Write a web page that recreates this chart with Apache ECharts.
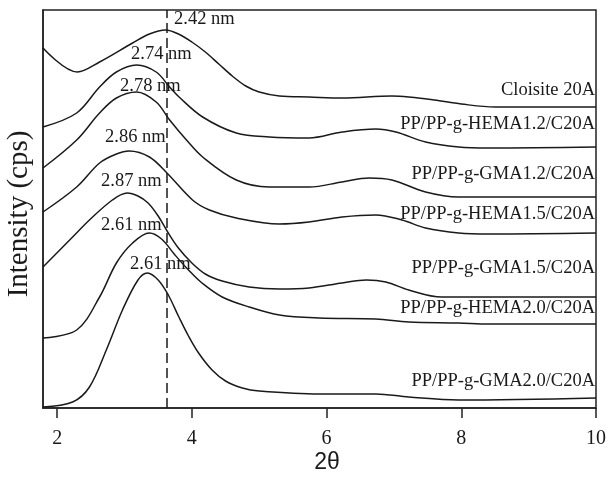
<!DOCTYPE html>
<html>
<head>
<meta charset="utf-8">
<script src="https://cdn.jsdelivr.net/npm/echarts@6/dist/echarts.min.js"></script>
<style>
  html, body { margin: 0; padding: 0; background: #fff; }
  #chart { width: 609px; height: 478px; }
</style>
</head>
<body>
<div id="chart"></div>
<script>
// 2θ (deg) vs intensity (arbitrary cps, offset for stacking)
const cloisite = [[1.79,360],[2.30,336],[2.63,346],[3.12,365],[3.37,374],[3.61,378],[3.80,374],[4.00,366],[4.20,356],[4.40,344],[4.60,332],[4.80,322],[5.00,316],[5.30,312],[5.74,311],[6.23,310],[6.97,312],[7.22,311],[7.60,308],[8.00,304],[8.50,301],[10,301]];
const hema12 = [[1.79,281],[2.29,295],[2.63,321],[2.88,336],[3.18,343],[3.47,336],[3.67,321],[3.81,311],[4.16,291],[4.66,275],[5.15,271],[5.74,270],[6.23,276],[6.73,279],[7.03,276],[7.47,266],[7.96,261],[8.41,260],[10,261]];
const gma12 = [[1.79,240],[2.29,268],[2.63,295],[2.88,310],[3.18,316],[3.47,306],[3.67,288],[3.92,268],[4.16,251],[4.66,228],[5.15,221],[5.74,221],[6.23,226],[6.63,230],[6.97,228],[7.47,216],[7.96,211],[8.41,211],[10,211]];
const hema15 = [[1.79,196],[2.29,221],[2.63,245],[2.88,254],[3.07,257],[3.37,251],[3.63,235],[4.01,208],[4.26,198],[4.66,190],[5.30,184],[5.74,186],[6.23,191],[6.73,193],[7.12,188],[7.47,180],[7.96,175],[8.41,174],[10,175]];
const gma15 = [[1.79,141],[2.23,171],[2.48,188],[2.82,208],[3.04,215],[3.20,212],[3.35,205],[3.50,192],[3.65,175],[3.80,160],[4.00,145],[4.20,134],[4.45,127],[4.85,121],[5.30,119],[5.74,120],[6.23,125],[6.59,128],[6.88,126],[7.22,118],[7.71,111],[8.41,111],[10,111]];
const hema20 = [[1.79,70],[2.29,78],[2.63,111],[2.88,145],[3.12,165],[3.37,175],[3.55,169],[3.75,153],[3.95,138],[4.15,125],[4.45,111],[4.85,101],[5.30,93],[5.89,90],[6.73,89],[7.22,86],[7.96,85],[8.41,84],[10,84]];
const gma20 = [[1.79,1],[2.23,6],[2.48,21],[2.73,58],[2.97,98],[3.20,128],[3.34,135],[3.50,128],[3.65,113],[3.80,92],[3.95,72],[4.10,55],[4.30,38],[4.50,27],[4.75,20],[5.00,17],[5.89,14],[6.73,14],[7.22,11],[7.96,8],[10,10]];

const seriesNames = ["Cloisite 20A", "PP/PP-g-HEMA1.2/C20A", "PP/PP-g-GMA1.2/C20A", "PP/PP-g-HEMA1.5/C20A",
  "PP/PP-g-GMA1.5/C20A", "PP/PP-g-HEMA2.0/C20A", "PP/PP-g-GMA2.0/C20A"];
const dSpacing = ["2.42 nm", "2.74 nm", "2.78 nm", "2.86 nm", "2.87 nm", "2.61 nm", "2.61 nm"];
const xTicks = [2, 4, 6, 8, 10];
const refLine = 3.62;

const allData = [cloisite, hema12, gma12, hema15, gma15, hema20, gma20];

// where the texts go (pixels)
const nameY = [90, 124.5, 174.5, 214, 268.5, 308.5, 381];
const peakPos = [[174, 19.5], [131, 54.5], [120, 86], [105, 137.5], [101, 181.5], [101, 225.5], [130, 264]];

const serif = "Liberation Serif";
const ink = "#1a1a1a";

const chart = echarts.init(document.getElementById("chart"));

const series = allData.map((d, i) => ({
  name: seriesNames[i],
  type: "line",
  data: d,
  smooth: 0.35,
  showSymbol: false,
  lineStyle: { color: ink, width: 1.5 },
  z: 3,
}));
series[0].markLine = {
  silent: true,
  symbol: "none",
  label: { show: false },
  lineStyle: { color: ink, width: 1.5, type: [10, 5] },
  data: [{ xAxis: refLine }],
};

const graphic = [];
seriesNames.forEach((n, i) => {
  graphic.push({
    type: "text", x: 595, y: nameY[i],
    style: { text: n, font: `18.5px "${serif}"`, fill: ink, align: "right", verticalAlign: "middle" },
  });
});
dSpacing.forEach((t, i) => {
  graphic.push({
    type: "text", x: peakPos[i][0], y: peakPos[i][1],
    style: { text: t, font: `18.5px "${serif}"`, fill: ink, align: "left", verticalAlign: "middle" },
  });
});
graphic.push({
  type: "text", x: 19, y: 214, rotation: Math.PI / 2,
  style: { text: "Intensity (cps)", font: `29px "${serif}"`, fill: ink, align: "center", verticalAlign: "middle" },
});
graphic.push({
  type: "text", x: 327, y: 463,
  style: { text: "2θ", font: '23px "Liberation Sans"', fill: ink, align: "center", verticalAlign: "middle" },
});

let option;
option = {
  animation: false,
  backgroundColor: "#fff",
  grid: { left: 43, right: 12, top: 10, bottom: 70, show: true, borderColor: "#222", borderWidth: 1.5 },
  xAxis: {
    type: "value",
    min: 1.79,
    max: 10,
    axisLine: { lineStyle: { color: "#222", width: 1.5 } },
    axisTick: { show: true, inside: false, length: 10, customValues: xTicks, lineStyle: { color: "#222", width: 1.5 } },
    axisLabel: { customValues: xTicks, margin: 21, fontFamily: serif, fontSize: 20, color: ink },
    splitLine: { show: false },
  },
  yAxis: {
    type: "value",
    min: 0,
    max: 398,
    axisLine: { show: true, lineStyle: { color: "#222", width: 1.5 } },
    axisTick: { show: false },
    axisLabel: { show: false },
    splitLine: { show: false },
  },
  series: series,
  graphic: graphic,
};
option && chart.setOption(option);
</script>
</body>
</html>
